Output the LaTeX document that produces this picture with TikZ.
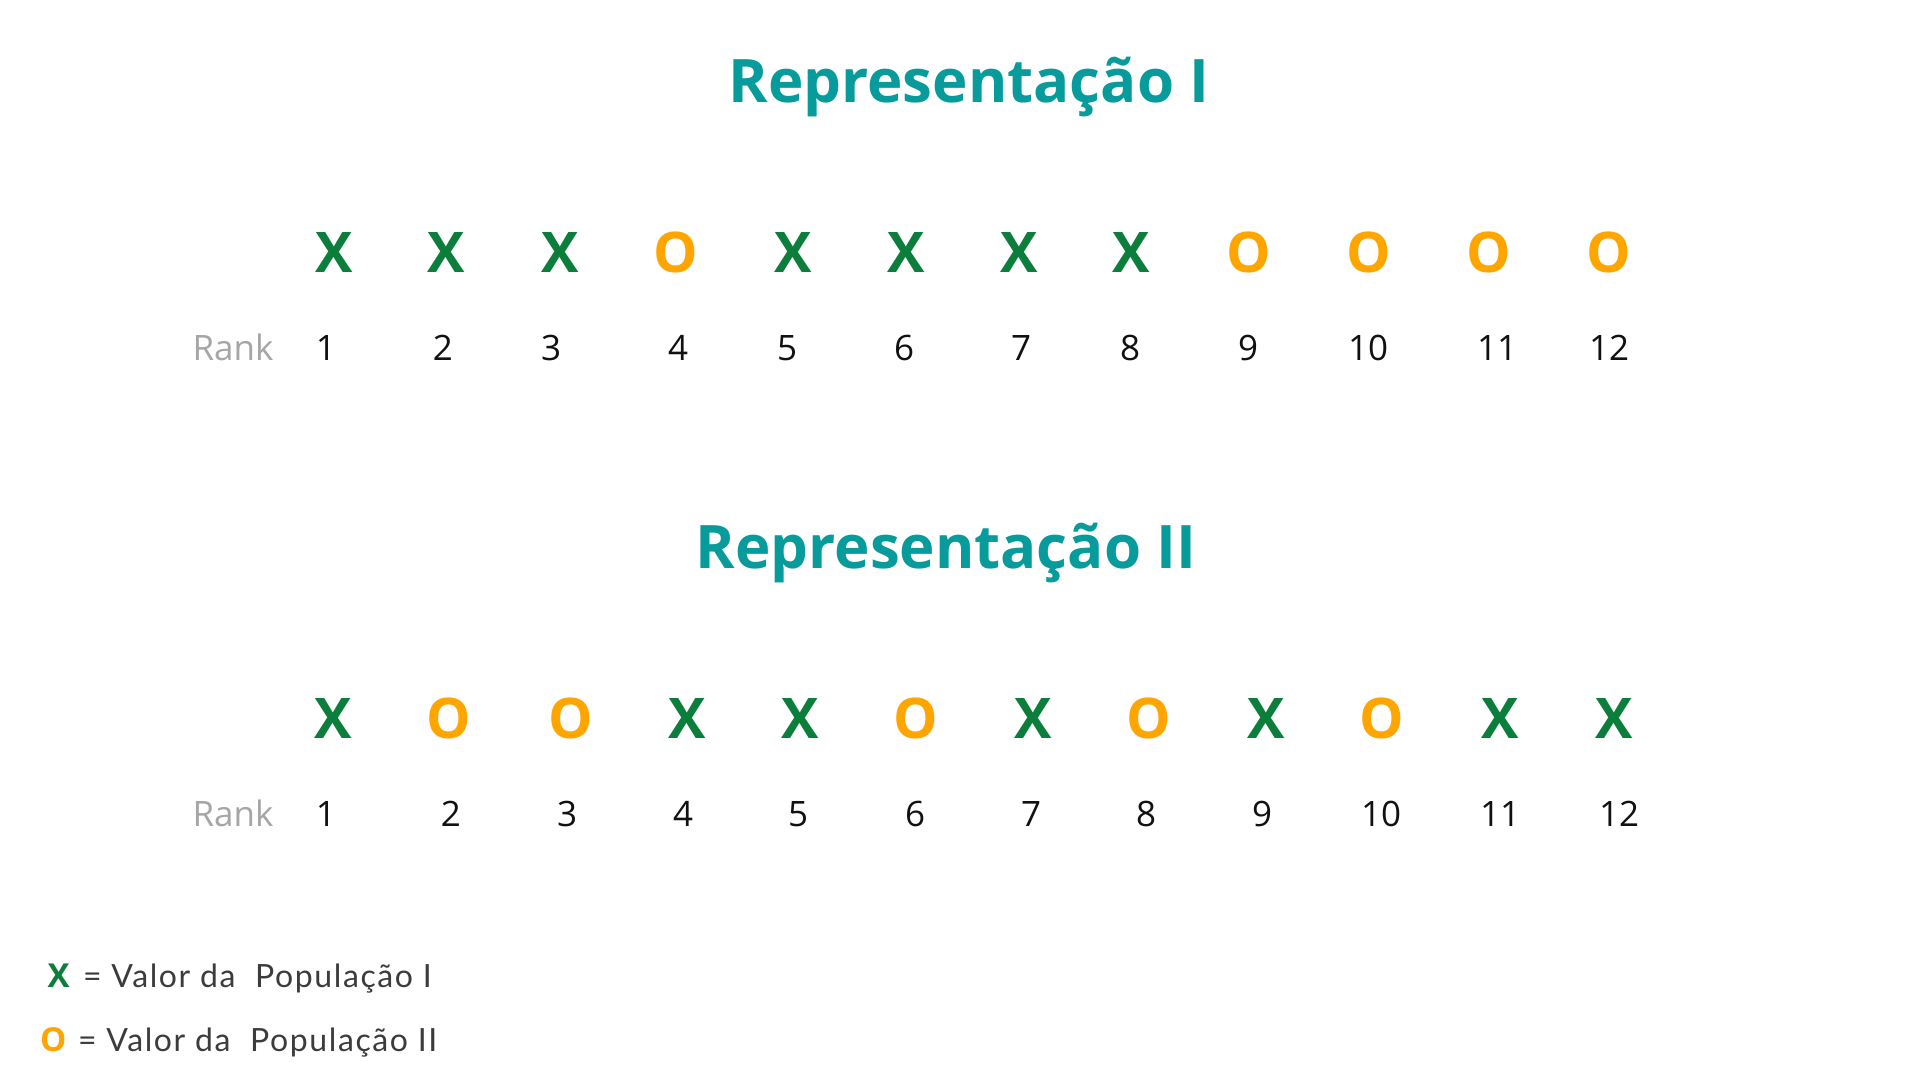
\documentclass[tikz,border=0pt]{standalone}
\usepackage{fontspec}
\setmainfont{Open Sans}
\newfontfamily\legfont{Lato}[LetterSpace=5]
\definecolor{teal1}{HTML}{089B9B}
\definecolor{grn}{HTML}{0A7E3A}
\definecolor{orng}{HTML}{FFA500}
\definecolor{rankgray}{HTML}{A6A6A6}
\definecolor{legtext}{HTML}{3C3C3C}
\definecolor{numblack}{HTML}{111111}
\tikzset{
  base/.style={inner sep=0pt, outer sep=0pt, anchor=base},
  title/.style={base, text=teal1, font=\fontsize{60}{72}\selectfont\bfseries},
  symX/.style={base, text=grn, font=\fontsize{56}{66}\selectfont\bfseries},
  symO/.style={base, text=orng, font=\fontsize{56}{66}\selectfont\bfseries},
  num/.style={base, text=numblack, font=\fontsize{35}{42}\selectfont},
  ranklbl/.style={base, text=rankgray, font=\fontsize{35}{42}\selectfont},
  legsymX/.style={base, text=grn, font=\fontsize{33}{40}\selectfont\bfseries},
  legsymO/.style={base, text=orng, font=\fontsize{33}{40}\selectfont\bfseries},
  legtxt/.style={inner sep=0pt, outer sep=0pt, anchor=base west, text=legtext, font=\legfont\fontsize{32}{38}\selectfont},
}
\begin{document}
\begin{tikzpicture}[x=1pt,y=-1pt]
\useasboundingbox (0,0) rectangle (1920,1080);
\fill[white] (0,0) rectangle (1920,1080);
% Titles
\node[title] (t1) at (969,102) {Representação I};
\node[title] (t2) at (946,568) {Representação II};
% Row 1 symbols
\node[symX] (a1) at (334,272) {X};
\node[symX] (a2) at (446,272) {X};
\node[symX] (a3) at (560,272) {X};
\node[symO] (a4) at (676,272) {O};
\node[symX] (a5) at (793,272) {X};
\node[symX] (a6) at (906,272) {X};
\node[symX] (a7) at (1019,272) {X};
\node[symX] (a8) at (1131,272) {X};
\node[symO] (a9) at (1249,272) {O};
\node[symO] (a10) at (1369,272) {O};
\node[symO] (a11) at (1489,272) {O};
\node[symO] (a12) at (1609,272) {O};
% Row 1 ranks
\node[ranklbl] (r1) at (233,360) {Rank};
\node[num] (n1) at (326,360) {1};
\node[num] (n2) at (443,360) {2};
\node[num] (n3) at (551,360) {3};
\node[num] (n4) at (678,360) {4};
\node[num] (n5) at (787,360) {5};
\node[num] (n6) at (904,360) {6};
\node[num] (n7) at (1021,360) {7};
\node[num] (n8) at (1130,360) {8};
\node[num] (n9) at (1248,360) {9};
\node[num] (n10) at (1368,360) {10};
\node[num] (n11) at (1497,360) {11};
\node[num] (n12) at (1609,360) {12};
% Row 2 symbols
\node[symX] (b1) at (333,738.5) {X};
\node[symO] (b2) at (449,738.5) {O};
\node[symO] (b3) at (571,738.5) {O};
\node[symX] (b4) at (687,738.5) {X};
\node[symX] (b5) at (800,738.5) {X};
\node[symO] (b6) at (916,738.5) {O};
\node[symX] (b7) at (1033,738.5) {X};
\node[symO] (b8) at (1149,738.5) {O};
\node[symX] (b9) at (1266,738.5) {X};
\node[symO] (b10) at (1382,738.5) {O};
\node[symX] (b11) at (1500,738.5) {X};
\node[symX] (b12) at (1614,738.5) {X};
% Row 2 ranks
\node[ranklbl] (s0) at (233,826.5) {Rank};
\node[num] (m1) at (326,826.5) {1};
\node[num] (m2) at (451,826.5) {2};
\node[num] (m3) at (567,826.5) {3};
\node[num] (m4) at (683,826.5) {4};
\node[num] (m5) at (798,826.5) {5};
\node[num] (m6) at (915,826.5) {6};
\node[num] (m7) at (1031,826.5) {7};
\node[num] (m8) at (1146,826.5) {8};
\node[num] (m9) at (1262,826.5) {9};
\node[num] (m10) at (1381,826.5) {10};
\node[num] (m11) at (1500,826.5) {11};
\node[num] (m12) at (1619,826.5) {12};
% Legend
\node[legsymX] (lx) at (58.7,987) {X};
\node[legtxt] (lxt) at (83,987) {= Valor da\ \ População I};
\node[legsymO] (lo) at (53.3,1051) {O};
\node[legtxt] (lot) at (78,1051) {= Valor da\ \ População II};
\end{tikzpicture}
\end{document}
